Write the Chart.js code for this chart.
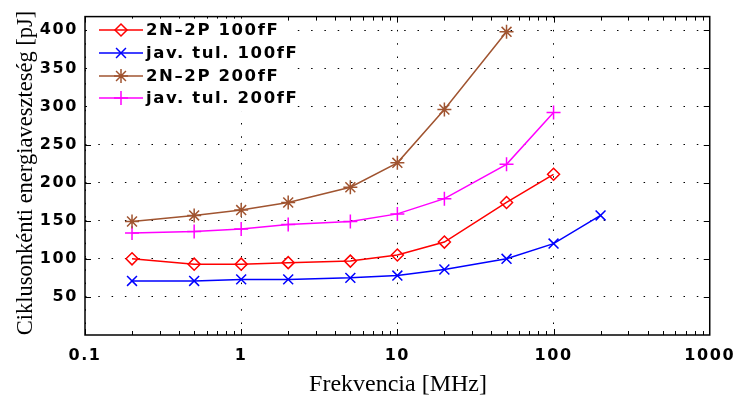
<!DOCTYPE html>
<html>
<head>
<meta charset="utf-8">
<script src="https://cdn.jsdelivr.net/npm/chart.js@4/dist/chart.umd.min.js"></script>
<style>
  html, body { margin: 0; padding: 0; background: #fff; }
  #wrap { width: 743px; height: 396px; }
</style>
</head>
<body>
<div id="wrap"><canvas id="chart" width="743" height="396"></canvas></div>
<script>
// frequencies in MHz
const freqs = [0.2, 0.5, 1, 2, 5, 10, 20, 50, 100, 200];

const seriesNames = ["2N\u20132P 100fF", "jav. tul. 100fF", "2N\u20132P 200fF", "jav. tul. 200fF"];
const std100 = [100, 93, 93, 95, 97, 105, 122, 174, 211];
const jav100 = [71, 71, 73, 73, 75, 78, 86, 100, 120, 157];
const std200 = [149, 157, 164, 174, 194, 226, 296, 398];
const jav200 = [134, 136, 139, 145, 149, 159, 179, 224, 292];

const xTicks = [0.1, 1, 10, 100, 1000];
const xTickLabels = ["0.1", "1", "10", "100", "1000"];
const yTicks = [50, 100, 150, 200, 250, 300, 350, 400];

const colors = ["#ff0000", "#0000ff", "rgb(160,84,48)", "#ff00ff"];
const markers = ["rectRot", "crossRot", "star", "cross"];

const toPoints = (vals) => vals.map((v, i) => ({ x: freqs[i], y: v }));

const tickFont = { family: "DejaVu Sans", size: 16, weight: "bold" };

// frame, inner ticks, legend, axis titles
const decor = {
  id: "decor",
  beforeDraw(chart) {
    chart.ctx.letterSpacing = "1.6px";
  },
  afterDatasetsDraw(chart) {
    const { ctx, chartArea: a, scales } = chart;
    const x = scales.x, y = scales.y;
    ctx.save();
    ctx.strokeStyle = "#000";
    ctx.lineWidth = 1;
    ctx.beginPath();
    // minor + major ticks on x
    for (let d = 0.1; d < 1000; d *= 10) {
      for (let m = 1; m < 10; m++) {
        const v = d * m;
        const px = Math.round(x.getPixelForValue(v)) + 0.5;
        const len = m === 1 ? 6 : 4;
        ctx.moveTo(px, a.bottom); ctx.lineTo(px, a.bottom - len);
        ctx.moveTo(px, a.top); ctx.lineTo(px, a.top + len);
      }
    }
    yTicks.forEach((v) => {
      const py = Math.round(y.getPixelForValue(v)) + 0.5;
      ctx.moveTo(a.left, py); ctx.lineTo(a.left + 6, py);
      ctx.moveTo(a.right, py); ctx.lineTo(a.right - 6, py);
    });
    ctx.stroke();

    // legend
    ctx.fillStyle = "#fff";
    ctx.fillRect(a.left + 2, a.top + 2, 200, 93);
    const rows = [30, 53, 76, 98];
    ctx.font = "bold 16.5px 'DejaVu Sans'";
    ctx.letterSpacing = "1.6px";
    ctx.textBaseline = "middle";
    chart.data.datasets.forEach((ds, i) => {
      const ry = rows[i];
      ctx.strokeStyle = ds.borderColor;
      ctx.lineWidth = 1.5;
      ctx.beginPath();
      ctx.moveTo(99, ry); ctx.lineTo(143, ry);
      ctx.stroke();
      if (Chart.helpers && Chart.helpers.drawPoint) {
        ctx.fillStyle = "rgba(0,0,0,0)";
        Chart.helpers.drawPoint(ctx, { pointStyle: ds.pointStyle, radius: ds.pointRadius, rotation: 0, borderWidth: 1.5 }, 121, ry);
      }
      ctx.fillStyle = "#000";
      ctx.fillText(ds.label, 146, ry + 1);
    });

    // axis titles
    ctx.letterSpacing = "0px";
    ctx.fillStyle = "#000";
    ctx.font = "24px 'Liberation Serif'";
    ctx.textAlign = "center";
    ctx.textBaseline = "alphabetic";
    ctx.fillText("Frekvencia [MHz]", 398, 391);
    ctx.translate(32, 173);
    ctx.rotate(-Math.PI / 2);
    ctx.font = "22.5px 'Liberation Serif'";
    ctx.fillText("Ciklusonkénti energiaveszteség [pJ]", 0, 0);
    ctx.restore();
  },
  afterDraw(chart) {
    const { ctx, chartArea: a } = chart;
    ctx.save();
    ctx.strokeStyle = "#000";
    ctx.lineWidth = 1.5;
    ctx.strokeRect(a.left, a.top, a.right - a.left, a.bottom - a.top);
    ctx.restore();
  }
};

const makeSet = (i, vals) => ({
  label: seriesNames[i],
  data: toPoints(vals),
  borderColor: colors[i],
  backgroundColor: "rgba(0,0,0,0)",
  pointBorderColor: colors[i],
  pointBackgroundColor: "rgba(0,0,0,0)",
  pointStyle: markers[i],
  pointRadius: i === 0 ? 6 : 7,
  pointBorderWidth: 1.5,
  borderWidth: 1.5,
  tension: 0,
});

new Chart(document.getElementById("chart"), {
  type: "line",
  data: {
    datasets: [
      makeSet(0, std100),
      makeSet(1, jav100),
      makeSet(2, std200),
      makeSet(3, jav200),
    ],
  },
  options: {
    responsive: false,
    animation: false,
    events: [],
    layout: { padding: { top: 15, right: 26, left: 0, bottom: 0 } },
    plugins: { legend: { display: false }, tooltip: { enabled: false } },
    scales: {
      x: {
        type: "logarithmic",
        min: 0.1,
        max: 1000,
        afterBuildTicks: (scale) => { scale.ticks = xTicks.map((v) => ({ value: v })); },
        afterFit: (scale) => { scale.height = 61; },
        ticks: {
          autoSkip: false,
          maxRotation: 0,
          padding: 11,
          color: "#000",
          font: tickFont,
          callback: (v, i) => xTickLabels[i],
        },
        grid: { color: "#000", lineWidth: 1, drawTicks: false },
        border: { display: false, dash: [1.5, 11.8] },
      },
      y: {
        min: 0,
        max: 418,
        afterBuildTicks: (scale) => { scale.ticks = yTicks.map((v) => ({ value: v })); },
        afterFit: (scale) => { scale.width = 85; },
        ticks: { padding: 7, color: "#000", font: tickFont },
        grid: { color: "#000", lineWidth: 1, drawTicks: false },
        border: { display: false, dash: [1.5, 11.8] },
      },
    },
  },
  plugins: [decor],
});
</script>
</body>
</html>
